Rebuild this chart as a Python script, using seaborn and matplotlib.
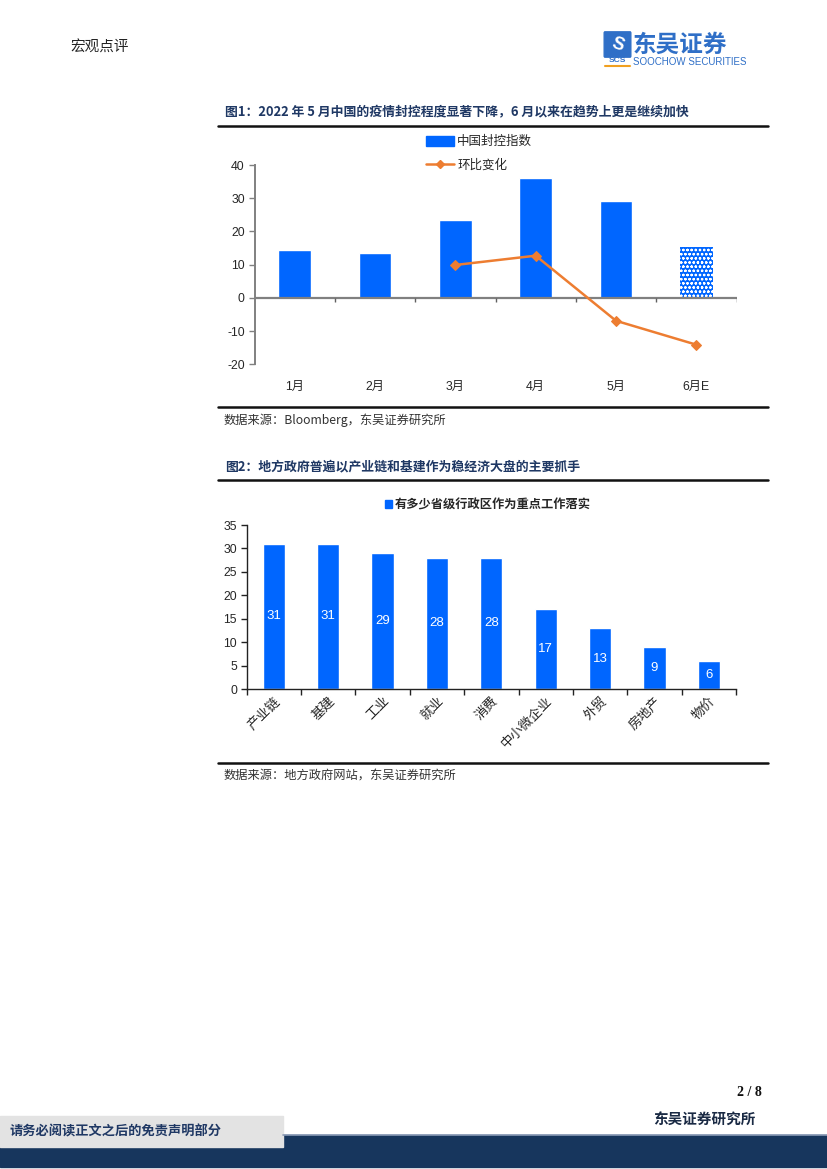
import matplotlib
matplotlib.use('Agg')
import matplotlib.pyplot as plt
import matplotlib.patches as mpatches
from matplotlib.lines import Line2D
import seaborn as sns
import numpy as np

# chart 1 data
months = ['1月', '2月', '3月', '4月', '5月', '6月E']
lockdown_idx = [14.3, 13.4, 23.3, 36.1, 29.2, 15.2]
mom_months = ['3月', '4月', '5月', '6月E']
mom_change = [9.9, 12.7, -6.9, -14.1]

# chart 2 data
tasks = ['产业链', '基建', '工业', '就业', '消费', '中小微企业', '外贸', '房地产', '物价']
province_cnt = [31, 31, 29, 28, 28, 17, 13, 9, 6]

sns.set_theme(style='white')
plt.rcParams['font.family'] = ['Liberation Sans', 'Noto Sans CJK SC', 'DejaVu Sans']
plt.rcParams['hatch.linewidth'] = 0.6
plt.rcParams['axes.unicode_minus'] = False

BLUE = '#0066FF'
ORANGE = '#ED7D31'
NAVY = '#1F3864'
CJK = ['Noto Sans CJK SC', 'DejaVu Sans']

W, H = 827, 1169
fig = plt.figure(figsize=(8.27, 11.69), dpi=100)


def fx(x):
    return x / W


def fy(y):
    return 1 - y / H


def rule(y, x0=218, x1=768, lw=1.8):
    fig.add_artist(Line2D([fx(x0), fx(x1)], [fy(y), fy(y)], color='#111111', lw=lw))


def box(x0, x1, y0, y1):
    # axes rect from pixel extents
    return [fx(x0), fy(y1), fx(x1) - fx(x0), fy(y0) - fy(y1)]


# ---- page header ----
fig.text(fx(70), fy(48), '宏观点评', family=CJK, fontsize=10.5, color='#222222', va='center')
fig.patches.append(mpatches.FancyBboxPatch((fx(605), fy(56)), fx(25), fy(33) - fy(56),
                                           boxstyle='round,pad=0.001', transform=fig.transFigure,
                                           color='#2F6FC7'))
fig.text(fx(617.5), fy(44.5), 'S', fontsize=13, color='white', weight='bold', ha='center', va='center',
         rotation=-20)
fig.text(fx(617.5), fy(61), 'SCS', fontsize=6, color='#2F6FC7', weight='bold', ha='center', va='center')
fig.add_artist(Line2D([fx(605), fx(630)], [fy(66), fy(66)], color='#F0A020', lw=1.5))
fig.text(fx(633), fy(45), '东吴证券', family=CJK, fontsize=17, weight='bold', color='#2F6FC7', va='center')
fig.text(fx(633), fy(62), 'SOOCHOW SECURITIES', fontsize=7, color='#2F6FC7', va='center')

# ---- figure 1 ----
fig.text(fx(225), fy(112), '图1：2022 年 5 月中国的疫情封控程度显著下降，6 月以来在趋势上更是继续加快',
         family=CJK, fontsize=9.3, weight='bold', color=NAVY, va='center')
rule(125.5)

ax1 = fig.add_axes(box(254.5, 736.5, 165, 364.3))
sns.barplot(x=months, y=lockdown_idx, ax=ax1, color=BLUE, width=0.41, saturation=1)
last = ax1.patches[len(months) - 1]
last.set_hatch('oooo')
last.set_edgecolor('white')
last.set_linewidth(0)
xpos = np.arange(len(months))
mom_x = [months.index(m) for m in mom_months]
sns.lineplot(x=mom_x, y=mom_change, ax=ax1, color=ORANGE, marker='D', markersize=5,
             markeredgecolor=ORANGE, linewidth=1.8)
ax1.set_xlim(-0.5, len(months) - 0.5)
ax1.set_ylim(-20, 40)
ax1.set_yticks(range(-20, 41, 10))
ax1.axhline(0, color='#808080', lw=1.6, zorder=1)
ax1.vlines(xpos + 0.5, -1.1, 0, color='#606060', lw=1.0)
for s in ['top', 'right', 'bottom']:
    ax1.spines[s].set_visible(False)
ax1.spines['left'].set_color('#808080')
ax1.spines['left'].set_linewidth(1.4)
ax1.tick_params(axis='y', length=4, width=1, color='#808080', labelsize=8.8, pad=3, left=True)
ax1.tick_params(axis='x', length=0, labelsize=8.8, pad=12)
ax1.set_xlabel('')
ax1.set_ylabel('')
h_bar = mpatches.Patch(color=BLUE)
h_line = Line2D([], [], color=ORANGE, marker='D', markersize=4.5, lw=1.8)
ax1.legend([h_bar, h_line], ['中国封控指数', '环比变化'], loc='center left',
           bbox_to_anchor=((421 - 254.5) / 482, (40 - (153.5 - 165) / 3.32 - (-20)) / 60),
           frameon=False, prop={'family': CJK, 'size': 9}, handlelength=2.2,
           handleheight=0.9, handletextpad=0.3, labelspacing=0.85, borderaxespad=0)

rule(407)
fig.text(fx(224), fy(420), '数据来源：Bloomberg，东吴证券研究所', family=CJK, fontsize=8.8,
         color='#333333', va='center')

# ---- figure 2 ----
fig.text(fx(225), fy(466), '图2：地方政府普遍以产业链和基建作为稳经济大盘的主要抓手',
         family=CJK, fontsize=9.3, weight='bold', color=NAVY, va='center')
rule(479.5)

ax2 = fig.add_axes(box(246.7, 736, 525, 689))
sns.barplot(x=tasks, y=province_cnt, ax=ax2, color=BLUE, width=0.41, saturation=1)
ax2.bar_label(ax2.containers[0], label_type='center', color='white', fontsize=9.5)
ax2.set_xlim(-0.5, len(tasks) - 0.5)
ax2.set_ylim(0, 35)
ax2.set_yticks(range(0, 36, 5))
ax2.set_xticks(np.arange(len(tasks) + 1) - 0.5, minor=True)
for s in ['top', 'right']:
    ax2.spines[s].set_visible(False)
for s in ['left', 'bottom']:
    ax2.spines[s].set_color('#222222')
    ax2.spines[s].set_linewidth(1.0)
ax2.tick_params(axis='y', length=4, width=1, color='#222222', labelsize=8.8, pad=3, left=True)
ax2.tick_params(axis='x', which='major', length=0, pad=4)
ax2.tick_params(axis='x', which='minor', length=4, width=1, color='#222222', bottom=True)
ax2.set_xticks(np.arange(len(tasks)), tasks)
for lab in ax2.get_xticklabels():
    lab.set_family(CJK)
    lab.set_fontsize(9.5)
    lab.set_rotation(45)
    lab.set_ha('right')
    lab.set_va('top')
    lab.set_rotation_mode('anchor')
ax2.set_xlabel('')
ax2.set_ylabel('')
ax2.legend([mpatches.Patch(color=BLUE)], ['有多少省级行政区作为重点工作落实'], loc='center',
           bbox_to_anchor=((488 - 246.7) / 489.3, 1 + (525 - 505) / 164), frameon=False,
           prop={'family': CJK, 'size': 8.8, 'weight': 'bold'}, handlelength=0.6,
           handleheight=0.6, handletextpad=0.2, borderaxespad=0)

rule(763)
fig.text(fx(224), fy(776), '数据来源：地方政府网站，东吴证券研究所', family=CJK, fontsize=8.8,
         color='#333333', va='center')

# ---- page footer ----
fig.text(fx(762), fy(1092), '2 / 8', fontsize=10, weight='bold', family=['Liberation Serif'],
         ha='right', va='center', color='#111111')
fig.text(fx(756), fy(1120), '东吴证券研究所', family=CJK, fontsize=10.5, weight='bold',
         ha='right', va='center', color='#1a2a44')
fig.patches.append(mpatches.Rectangle((0, fy(1167)), 1, fy(1135) - fy(1167),
                                      transform=fig.transFigure, color='#17365D'))
fig.add_artist(Line2D([fx(283), 1], [fy(1135), fy(1135)], color='#8a9ab5', lw=1.2))
fig.patches.append(mpatches.Rectangle((0, fy(1147)), fx(283), fy(1116) - fy(1147),
                                      transform=fig.transFigure, color='#E3E3E3'))
fig.text(fx(10), fy(1132), '请务必阅读正文之后的免责声明部分', family=CJK, fontsize=9.5,
         weight='bold', va='center', color='#1F3864')

fig.savefig('out.png', dpi=100)
